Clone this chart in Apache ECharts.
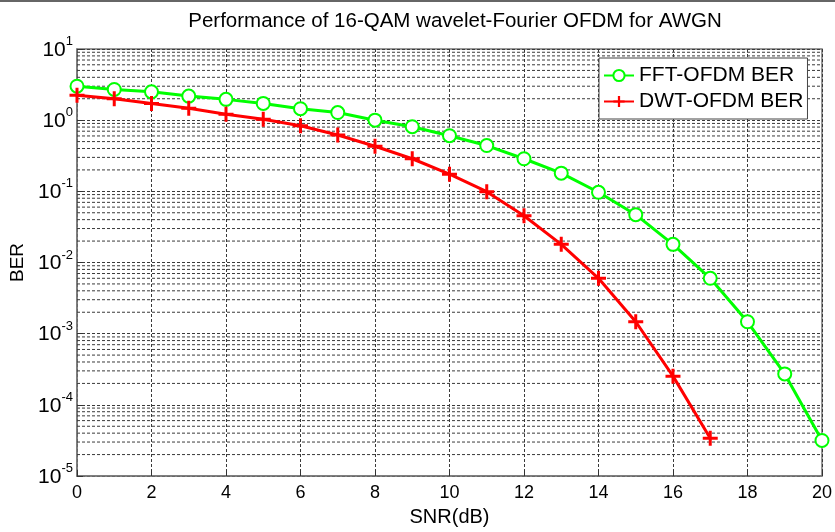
<!DOCTYPE html>
<html>
<head>
<meta charset="utf-8">
<script src="https://cdn.jsdelivr.net/npm/echarts@6/dist/echarts.min.js"></script>
<style>html,body{margin:0;padding:0;background:#fff}#c{width:835px;height:532px}</style>
</head>
<body>
<div id="c"></div>
<script>
var snr = [0,1,2,3,4,5,6,7,8,9,10,11,12,13,14,15,16,17,18,19,20];
var fftBer = [3.0,2.7,2.5,2.18,1.96,1.72,1.45,1.28,1.0,0.81,0.605,0.44,0.287,0.18,0.097,0.047,0.018,0.006,0.00147,0.000272,0.0000316];
var dwtBer = [2.24,2.0,1.72,1.47,1.21,1.03,0.834,0.62,0.43,0.287,0.174,0.099,0.0454,0.018,0.006,0.00147,0.000253,0.000034];
var xTicks = [0,2,4,6,8,10,12,14,16,18,20];
var yDecades = [-5,-4,-3,-2,-1,0,1];
var minorMultipliers = [2,3,4,5,6,7,8,9];

var minorGrid = [];
yDecades.slice(0, -1).forEach(function(e){
  minorMultipliers.forEach(function(m){ minorGrid.push([0, m * Math.pow(10, e)]); });
});

var font = 'Liberation Sans, Arial, sans-serif';
var plusPath = 'path://M4,0h2v4h4v2h-4v4h-2v-4h-4v-2h4z';
var gridColor = '#3a3a3a';
var gridDash = [3, 2];
var gridLineStyle = {color: gridColor, type: gridDash, width: 1};

var chart = echarts.init(document.getElementById('c'), null, {renderer: 'canvas'});
chart.setOption({
  animation: false,
  backgroundColor: '#fff',
  textStyle: {fontFamily: font},
  title: {
    text: 'Performance of 16-QAM wavelet-Fourier OFDM for AWGN',
    left: 450, top: 6, textAlign: 'center',
    textStyle: {fontFamily: font, fontSize: 20.5, fontWeight: 'normal', color: '#000'}
  },
  graphic: [{type: 'line', shape: {x1: 0, y1: 1, x2: 835, y2: 1}, style: {stroke: '#666', lineWidth: 2}, z: 10}],
  grid: {left: 77, right: 12, top: 49, bottom: 51, show: true, borderColor: '#777', borderWidth: 1.5, backgroundColor: '#fff'},
  legend: {
    left: 599, top: 58,
    orient: 'vertical',
    backgroundColor: '#fff', borderColor: '#444', borderWidth: 1,
    padding: [7, 4, 7, 4], itemGap: 5,
    itemWidth: 30, itemHeight: 14,
    textStyle: {fontFamily: font, fontSize: 21, color: '#000'},
    data: ['FFT-OFDM BER', 'DWT-OFDM BER']
  },
  xAxis: {
    type: 'value', min: 0, max: 20, interval: 2,
    name: 'SNR(dB)', nameLocation: 'middle', nameGap: 31,
    nameTextStyle: {fontFamily: font, fontSize: 20, color: '#000'},
    axisLine: {show: true, lineStyle: {color: '#777', width: 1.5}},
    axisTick: {show: true, inside: true, length: 6, lineStyle: {color: '#333'}},
    axisLabel: {fontFamily: font, fontSize: 18, color: '#000', margin: 8,
      formatter: function(v){ return xTicks.indexOf(v) >= 0 ? String(v) : ''; }},
    splitLine: {show: true, lineStyle: gridLineStyle}
  },
  yAxis: {
    type: 'log', logBase: 10, min: 1e-5, max: 10, splitNumber: 6,
    name: 'BER', nameLocation: 'middle', nameGap: 47, nameRotate: 90,
    nameTextStyle: {fontFamily: font, fontSize: 19, color: '#000'},
    axisLine: {show: true, lineStyle: {color: '#777', width: 1.5}},
    axisTick: {show: true, inside: true, length: 6, lineStyle: {color: '#333'}},
    axisLabel: {
      fontFamily: font, color: '#000', margin: 4,
      formatter: function(v){
        var e = Math.round(Math.log10(v));
        return '{b|10}{e|' + e + '}';
      },
      rich: {
        b: {fontFamily: font, fontSize: 21, color: '#000', padding: [2, 0, 0, 0]},
        e: {fontFamily: font, fontSize: 13, color: '#000', padding: [0, 0, 15, 0]}
      }
    },
    splitLine: {show: true, lineStyle: gridLineStyle}
  },
  series: [
    {
      name: 'gridMinor', type: 'custom', z: 1, silent: true,
      data: minorGrid, encode: {x: 0, y: 1},
      renderItem: function(params, api){
        var v = api.value(1);
        var p1 = api.coord([0, v]);
        var p2 = api.coord([20, v]);
        return {type: 'line', shape: {x1: p1[0], y1: p1[1], x2: p2[0], y2: p2[1]},
          style: {stroke: gridColor, lineDash: gridDash, lineWidth: 1}};
      }
    },
    {
      name: 'FFT-OFDM BER', type: 'line', z: 4,
      data: snr.map(function(s, i){ return [s, fftBer[i]]; }),
      symbol: 'emptyCircle', symbolSize: 13,
      lineStyle: {color: '#00ff00', width: 3},
      itemStyle: {color: '#00ff00', borderColor: '#00ff00', borderWidth: 2.5}
    },
    {
      name: 'DWT-OFDM BER', type: 'line', z: 5,
      data: dwtBer.map(function(b, i){ return [snr[i], b]; }),
      symbol: plusPath, symbolSize: 15, symbolKeepAspect: true,
      lineStyle: {color: '#ff0000', width: 3},
      itemStyle: {color: '#ff0000'}
    }
  ]
});
</script>
</body>
</html>
